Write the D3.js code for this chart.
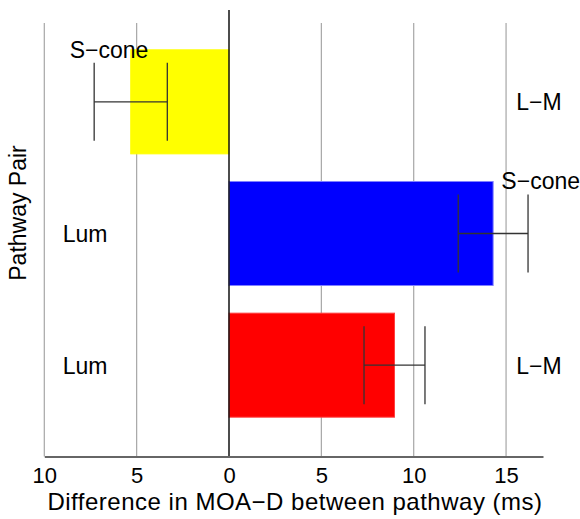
<!DOCTYPE html>
<html>
<head>
<meta charset="utf-8">
<script src="https://cdn.jsdelivr.net/npm/d3@7/dist/d3.min.js"></script>
<style>
  html, body { margin: 0; padding: 0; background: #fff; }
  svg { display: block; font-family: "Liberation Sans", Arial, Helvetica, sans-serif; }
</style>
</head>
<body>
<svg id="chart" width="580" height="519"></svg>
<script>
// Pathway pairs, top to bottom
const pairs = ["S−cone / L−M", "Lum / S−cone", "Lum / L−M"];
const leftLabels = ["S−cone", "Lum", "Lum"];
const rightLabels = ["L−M", "S−cone", "L−M"];
// Mean difference in MOA-D (ms) and half-width of the error bar
const meanDiff = [-5.32, 14.3, 8.96];
const errHalf = [1.98, 1.89, 1.65];
const barColors = ["#ffff00", "#0000ff", "#ff0000"];
const barEdges = ["#ffff00", "#8080ff", "#ff4040"];
const tickValues = [-10, -5, 0, 5, 10, 15];
const tickLabels = ["10", "5", "0", "5", "10", "15"];

const svg = d3.select("#chart");
const TICK_FONT = 22, LABEL_FONT = 23, TITLE_FONT = 24;

const x = d3.scaleLinear().domain([-10, 17]).range([44.3, 543]);
const y = d3.scaleBand().domain(pairs).range([36, 431])
  .paddingInner(0.21).paddingOuter(0.105);

const plotTop = 23, plotBottom = 456.5;

// vertical grid lines
svg.append("g").selectAll("line")
  .data(tickValues.filter(v => v !== 0))
  .join("line")
  .attr("x1", d => x(d)).attr("x2", d => x(d))
  .attr("y1", plotTop).attr("y2", plotBottom)
  .attr("stroke", "#a6a6a6").attr("stroke-width", 1.2);

// bars
svg.append("g").selectAll("rect")
  .data(pairs)
  .join("rect")
  .attr("x", (d, i) => Math.min(x(0), x(meanDiff[i])))
  .attr("width", (d, i) => Math.abs(x(meanDiff[i]) - x(0)))
  .attr("y", d => y(d))
  .attr("height", y.bandwidth())
  .attr("fill", (d, i) => barColors[i])
  .attr("stroke", (d, i) => barEdges[i])
  .attr("stroke-width", 1);

// zero line
svg.append("line")
  .attr("x1", x(0)).attr("x2", x(0))
  .attr("y1", 10).attr("y2", plotBottom)
  .attr("stroke", "#111").attr("stroke-width", 1.5);

// error bars
const capHalf = y.bandwidth() * 0.375;
const eb = svg.append("g").attr("stroke", "#333").attr("stroke-width", 1.3).attr("fill", "none");
pairs.forEach((p, i) => {
  const cy = y(p) + y.bandwidth() / 2;
  const lo = x(meanDiff[i] - errHalf[i]);
  const hi = x(meanDiff[i] + errHalf[i]);
  eb.append("line").attr("x1", lo).attr("x2", hi).attr("y1", cy).attr("y2", cy);
  eb.append("line").attr("x1", lo).attr("x2", lo).attr("y1", cy - capHalf).attr("y2", cy + capHalf);
  eb.append("line").attr("x1", hi).attr("x2", hi).attr("y1", cy - capHalf).attr("y2", cy + capHalf);
});

// x axis: baseline and absolute-valued tick labels
const xAxis = d3.axisBottom(x)
  .tickValues(tickValues)
  .tickFormat((d, i) => tickLabels[i])
  .tickSize(0)
  .tickPadding(11);
const ax = svg.append("g").attr("transform", `translate(0,${plotBottom})`).call(xAxis);
ax.select(".domain").attr("stroke", "#666").attr("stroke-width", 2);
ax.selectAll("text").attr("font-size", TICK_FONT).attr("fill", "#000")
  .attr("font-family", "Liberation Sans, Arial, sans-serif");

// axis titles
svg.append("text")
  .attr("x", 295).attr("y", 510)
  .attr("text-anchor", "middle").attr("font-size", TITLE_FONT)
  .attr("letter-spacing", 0.5)
  .text("Difference in MOA−D between pathway (ms)");

svg.append("text")
  .attr("transform", "translate(26,213) rotate(-90)")
  .attr("text-anchor", "middle").attr("font-size", LABEL_FONT)
  .text("Pathway Pair");

// pathway labels on either side of each bar
const labelY = (lbl, p) => lbl === "S−cone"
  ? y(p) + 8
  : y(p) + y.bandwidth() / 2 + 8.5;
const labels = svg.append("g").attr("font-size", LABEL_FONT).attr("text-anchor", "middle");
pairs.forEach((p, i) => {
  labels.append("text")
    .attr("x", leftLabels[i] === "S−cone" ? 109 : 85)
    .attr("y", labelY(leftLabels[i], p))
    .text(leftLabels[i]);
  labels.append("text")
    .attr("x", rightLabels[i] === "S−cone" ? 540.7 : 539)
    .attr("y", labelY(rightLabels[i], p))
    .text(rightLabels[i]);
});
</script>
</body>
</html>
